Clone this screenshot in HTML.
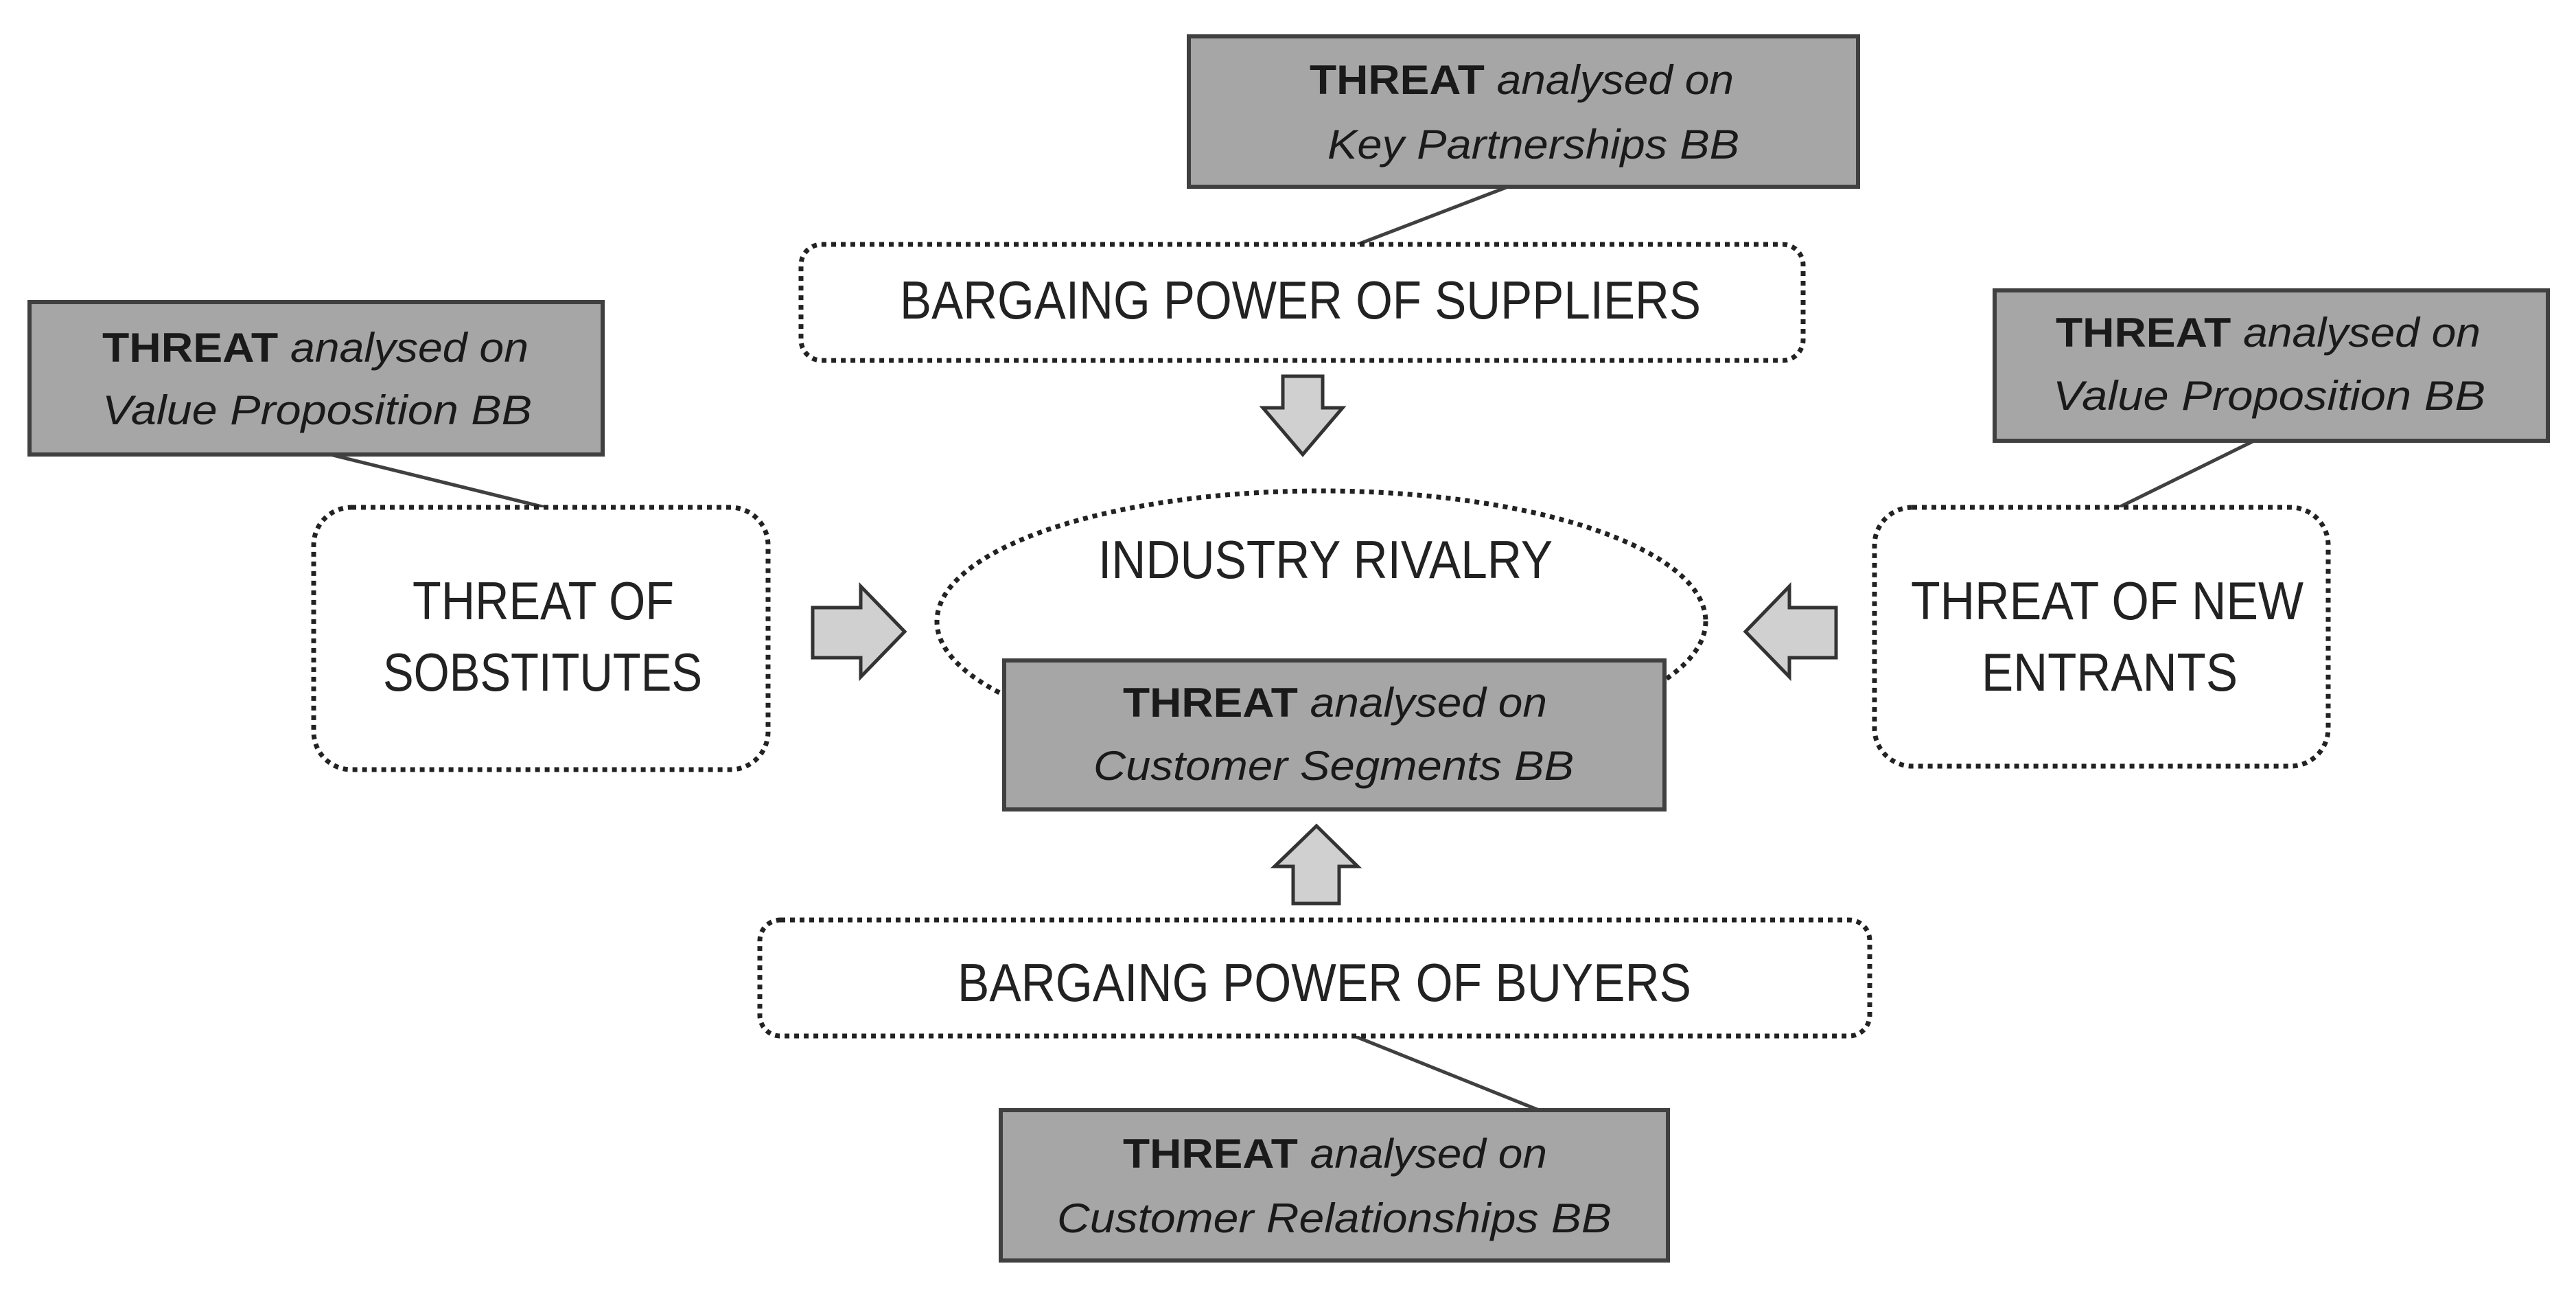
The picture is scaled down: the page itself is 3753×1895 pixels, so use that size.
<!DOCTYPE html>
<html><head><meta charset="utf-8"><style>
html,body{margin:0;padding:0;background:#fff;}
svg{display:block;}
text{font-family:"Liberation Sans",sans-serif;fill:#1a1a1a;}
.g{font-size:60px;}
.b{font-weight:bold;}
.i{font-style:italic;}
.w{font-size:78px;fill:#222;}
</style></head><body>
<svg width="3753" height="1895" viewBox="0 0 3753 1895" xmlns="http://www.w3.org/2000/svg">
<rect width="3753" height="1895" fill="#fff"/>
<!-- connectors -->
<g stroke="#404040" stroke-width="5">
<line x1="2197" y1="272" x2="1978" y2="356"/>
<line x1="481" y1="662" x2="794" y2="739"/>
<line x1="3284" y1="642" x2="3087" y2="739"/>
<line x1="1973" y1="1509" x2="2242" y2="1617"/>
</g>
<!-- dotted shapes -->
<g fill="#fff" stroke="#222" stroke-width="7" stroke-dasharray="7 7">
<rect x="1167" y="356" width="1460" height="169" rx="30"/>
<rect x="457" y="739" width="662" height="382" rx="55"/>
<rect x="2731" y="739" width="661" height="377" rx="55"/>
<rect x="1107" y="1340" width="1617" height="169" rx="30"/>
<ellipse cx="1925" cy="905" rx="560" ry="190"/>
</g>
<!-- gray boxes -->
<g fill="#a6a6a6" stroke="#404040" stroke-width="6">
<rect x="1732" y="53" width="975" height="219"/>
<rect x="43" y="440" width="835" height="222"/>
<rect x="2906" y="423" width="806" height="219"/>
<rect x="1463" y="962" width="962" height="217"/>
<rect x="1458" y="1617" width="972" height="219"/>
</g>
<!-- arrows -->
<g fill="#d0d0d0" stroke="#333" stroke-width="5">
<polygon points="1869,548 1927,548 1927,594 1956,594 1898,662 1840,594 1869,594"/>
<polygon points="1184,885 1254,885 1254,854 1318,920 1254,986 1254,958 1184,958"/>
<polygon points="2675,885 2607,885 2607,854 2543,920 2607,986 2607,958 2675,958"/>
<polygon points="1884,1316 1951,1316 1951,1262 1978,1262 1918,1203 1857,1262 1884,1262"/>
</g>
<!-- gray box texts -->
<text class="g" x="1908" y="137" textLength="618" lengthAdjust="spacingAndGlyphs"><tspan class="b">THREAT</tspan><tspan class="i"> analysed on</tspan></text>
<text class="g i" x="1934" y="231" textLength="600" lengthAdjust="spacingAndGlyphs">Key Partnerships BB</text>
<text class="g" x="149" y="527" textLength="621" lengthAdjust="spacingAndGlyphs"><tspan class="b">THREAT</tspan><tspan class="i"> analysed on</tspan></text>
<text class="g i" x="149" y="618" textLength="626" lengthAdjust="spacingAndGlyphs">Value Proposition BB</text>
<text class="g" x="2995" y="505" textLength="619" lengthAdjust="spacingAndGlyphs"><tspan class="b">THREAT</tspan><tspan class="i"> analysed on</tspan></text>
<text class="g i" x="2991" y="597" textLength="630" lengthAdjust="spacingAndGlyphs">Value Proposition BB</text>
<text class="g" x="1636" y="1044" textLength="618" lengthAdjust="spacingAndGlyphs"><tspan class="b">THREAT</tspan><tspan class="i"> analysed on</tspan></text>
<text class="g i" x="1593" y="1136" textLength="700" lengthAdjust="spacingAndGlyphs">Customer Segments BB</text>
<text class="g" x="1636" y="1701" textLength="618" lengthAdjust="spacingAndGlyphs"><tspan class="b">THREAT</tspan><tspan class="i"> analysed on</tspan></text>
<text class="g i" x="1540" y="1795" textLength="808" lengthAdjust="spacingAndGlyphs">Customer Relationships BB</text>
<!-- white box texts -->
<text class="w" x="1311" y="464" textLength="1167" lengthAdjust="spacingAndGlyphs">BARGAING POWER OF SUPPLIERS</text>
<text class="w" x="1600" y="842" textLength="662" lengthAdjust="spacingAndGlyphs">INDUSTRY RIVALRY</text>
<text class="w" x="601" y="902" textLength="381" lengthAdjust="spacingAndGlyphs">THREAT OF</text>
<text class="w" x="558" y="1006" textLength="465" lengthAdjust="spacingAndGlyphs">SOBSTITUTES</text>
<text class="w" x="2784" y="902" textLength="572" lengthAdjust="spacingAndGlyphs">THREAT OF NEW</text>
<text class="w" x="2887" y="1006" textLength="373" lengthAdjust="spacingAndGlyphs">ENTRANTS</text>
<text class="w" x="1395" y="1458" textLength="1069" lengthAdjust="spacingAndGlyphs">BARGAING POWER OF BUYERS</text>
</svg>
</body></html>
